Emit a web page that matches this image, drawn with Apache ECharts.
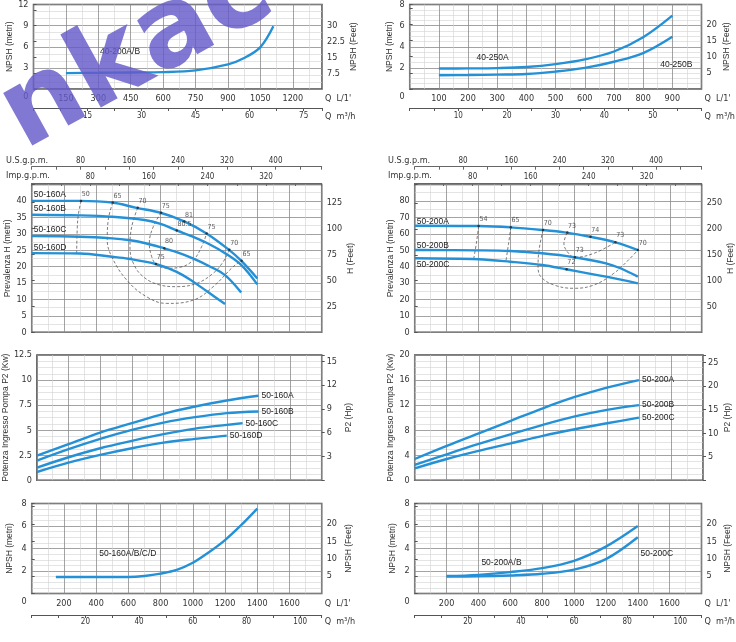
<!DOCTYPE html>
<html><head><meta charset="utf-8">
<script src="https://cdn.jsdelivr.net/npm/echarts@6/dist/echarts.min.js"></script>
<style>html,body{margin:0;padding:0;background:#fff}#c{width:736px;height:642px}</style>
</head><body><div id="c"></div>
<script>
const NUM = "'Liberation Sans Narrow','DejaVu Sans Condensed','Liberation Sans',sans-serif";
const TXT = "'Liberation Sans',Arial,sans-serif";
const BLUE = '#2490d6';

// ---------- DATA ----------
// Panel 1: NPSH 40-200A/B  (Q L/min, NPSH m)
const q40_200 = [150,300,450,600,750,900,975,1050,1110];
const npsh40_200 = [2.26,2.3,2.35,2.4,2.65,3.5,4.4,5.95,8.9];
// Panel 2: NPSH 40-250A / B
const q40_250 = [100,200,300,400,500,600,700,800,900];
const npsh40_250A = [1.94,1.95,1.98,2.08,2.35,2.8,3.55,4.9,6.95];
const npsh40_250B = [1.3,1.32,1.36,1.42,1.65,2.0,2.58,3.4,4.95];
// Panel 3: H 50-160
const qH160A = [0,300,500,650,800,950,1085,1225,1300,1400];
const h160A  = [40,40,39.5,37.9,36.4,33.7,30.1,25.1,21.8,16.4];
const qH160B = [0,300,500,700,800,900,1000,1100,1200,1300,1400];
const h160B  = [35.8,35.6,35.2,34.2,33.0,31.0,29.1,26.9,24.1,20.5,14.6];
const qH160C = [0,300,500,600,700,820,900,1000,1100,1200,1300];
const h160C  = [29.3,29.1,28.6,28.1,27.2,25.6,24.4,22.5,20.2,17.4,12.1];
const qH160D = [0,300,500,600,770,900,1000,1090,1200];
const h160D  = [24.1,24.0,23.0,22.4,20.8,18.4,15.5,12.4,8.6];
const eff160_50 = [[306,40],[290,36],[283,32],[279,24]];
const eff160_65 = [[503,39.5],[475,34.2],[469,28.1],[497,23.0],[590,15.9],[714,10.8],[838,8.8],[1003,9.8],[1127,13.9],[1251,20.0],[1303,21.8]];
const eff160_70 = [[658,37.9],[621,32.2],[610,26.1],[631,21.0],[693,16.9],[796,14.4],[900,13.9],[1024,14.9],[1127,18.0],[1189,21.5],[1227,25.1]];
const eff160_75 = [[803,36.4],[755,32.2],[730,27.1],[745,23.0],[771,20.8],[838,19.5],[920,19.8],[1003,22.0],[1055,26.1],[1086,30.1]];
const effMarks160 = [[306,40,'50'],[503,39.5,'65'],[658,37.9,'70'],[803,36.4,'75'],[947,33.7,'81'],[1086,30.1,'75'],[1227,25.1,'70'],[1303,21.8,'65'],[900,31.0,'80.5'],[823,25.6,'80'],[771,20.8,'75']];
// Panel 4: H 50-200
const qH200A = [0,400,600,800,950,1100,1260,1400];
const h200A  = [64.9,64.7,63.9,62.3,60.7,58.2,54.8,50.1];
const qH200B = [0,400,600,800,1000,1200,1290,1400];
const h200B  = [50.1,49.9,49.5,48.1,45.7,42.0,39.0,33.9];
const qH200C = [0,400,600,800,950,1200,1400];
const h200C  = [45.1,44.5,43.0,41.0,38.4,33.9,29.8];
const eff200_54 = [[401,64.7],[388,55],[370,44.6]];
const eff200_65 = [[603,63.9],[588,53.5],[572,43.2]];
const eff200_70 = [[805,62.3],[780,50.1],[774,40.0],[791,33.9],[874,28.8],[999,26.8],[1124,28.8],[1249,35.9],[1352,45.1],[1400,50.1]];
const eff200_73 = [[957,60.7],[936,54.2],[957,49.1],[1005,45.7],[1124,48.1],[1259,54.8]];
const effMarks200 = [[401,64.7,'54'],[603,63.9,'65'],[805,62.3,'70'],[957,60.7,'73'],[1103,58.2,'74'],[1259,54.8,'73'],[1400,50.1,'70'],[1005,45.7,'73'],[953,38.4,'72']];
// Panel 5: P2 50-160 (kW)
const qP = [0,200,400,600,800,1000,1200,1400];
const p160A = [2.46,3.6,4.76,5.7,6.63,7.36,7.96,8.43];
const p160B = [1.96,3.1,4.13,5.03,5.76,6.3,6.7,6.86];
const qP160C = [0,200,400,600,800,1000,1200,1300];
const p160C = [1.26,2.3,3.2,3.93,4.6,5.16,5.53,5.7];
const qP160D = [0,200,400,600,800,1000,1200];
const p160D = [0.83,1.76,2.53,3.2,3.76,4.13,4.46];
// Panel 6: P2 50-200 (kW)
const p200A = [3.4,5.5,7.5,9.5,11.5,13.3,14.8,16.0];
const p200B = [2.45,4.15,5.8,7.35,8.85,10.2,11.25,12.0];
const p200C = [1.9,3.4,4.7,5.9,7.1,8.15,9.1,10.0];
// Panel 7: NPSH 50-160A/B/C/D
const qN160 = [150,400,600,700,800,900,1000,1100,1200,1300,1400];
const npsh160 = [1.47,1.47,1.47,1.56,1.77,2.1,2.73,3.67,4.75,6.07,7.54];
// Panel 8: NPSH 50-200
const qN200 = [200,400,600,800,1000,1200,1400];
const npsh200AB = [1.55,1.66,1.9,2.25,2.91,4.17,6.0];
const npsh200C  = [1.5,1.52,1.6,1.75,2.12,3.06,5.0];

// tick label lists
const xL1 = [150,300,450,600,750,900,1050,1200], m3L1 = [15,30,45,60,75];
const xL2 = [100,200,300,400,500,600,700,800,900], m3L2 = [10,20,30,40,50];
const xL7 = [200,400,600,800,1000,1200,1400,1600], m3L7 = [20,40,60,80,100];
const usL = [80,160,240,320,400], impL = [80,160,240,320];

// ---------- BUILD ----------
const grids=[], xAxes=[], yAxes=[], series=[];
const inList=(l,v)=>l.some(t=>Math.abs(t-v)<1e-6);
const fmt=(l,shift)=>v=>inList(l,v)?((shift&&Math.abs(v)<1e-9)?'{z|0}':String(v)):'';
const lbl={fontSize:9,color:'#333',fontFamily:NUM};
const nameStyle={fontSize:8.5,color:'#333',fontFamily:TXT};
const shiftedName=(pad)=>({fontSize:9,color:'#333',fontFamily:NUM,align:'left',
  rich:{n:{padding:[pad,0,0,0],fontSize:9,color:'#333',fontFamily:NUM}}});

function addPanel(p){
  const gi=grids.length;
  grids.push({left:p.box[0],top:p.box[1],width:p.box[2],height:p.box[3],show:true,borderColor:'#4d4d4d',borderWidth:1.5});
  const xi=xAxes.length;
  xAxes.push({gridIndex:gi,type:'value',position:'bottom',min:0,max:p.xmax,interval:p.xint,
    axisLine:{show:false},axisTick:{show:false},
    axisLabel:Object.assign({show:!!p.xL,formatter:p.xL?fmt(p.xL):undefined,margin:p.xMargin||5},lbl),
    splitLine:{show:true,lineStyle:{color:'#8c8c8c',width:0.8}},
    minorTick:{show:false,splitNumber:2},
    minorSplitLine:{show:true,lineStyle:{color:'#d2d2d2',width:0.6}},
    name:p.xName?('{n|'+p.xName+'}'):'',nameLocation:'end',nameGap:3,
    nameTextStyle:shiftedName(p.xNamePad||0)});
  if(p.m3){
    xAxes.push({gridIndex:gi,type:'value',position:'bottom',offset:p.m3.offset,min:0,max:p.xmax*0.06,interval:p.m3.int,
      axisLine:{show:true,onZero:false,lineStyle:{color:'#555',width:1}},
      axisTick:{show:true,length:3,lineStyle:{color:'#555'}},
      axisLabel:Object.assign({formatter:fmt(p.m3.labels),margin:p.m3.margin},lbl,{fontSize:8}),
      splitLine:{show:false},
      name:'{n|Q  m³/h}',nameLocation:'end',nameGap:3,
      nameTextStyle:shiftedName(p.m3.namePad)});
  }
  if(p.gpm){
    xAxes.push({gridIndex:gi,type:'value',position:'top',offset:17.8,min:0,max:p.xmax/3.785,interval:40,
      axisLine:{show:true,onZero:false,lineStyle:{color:'#666',width:1}},
      axisTick:{show:true,inside:true,length:3,lineStyle:{color:'#666'}},
      axisLabel:Object.assign({formatter:fmt(usL),margin:2},lbl,{fontSize:8}),splitLine:{show:false}});
    xAxes.push({gridIndex:gi,type:'value',position:'top',offset:1.5,min:0,max:p.xmax/4.546,interval:40,
      axisLine:{show:true,onZero:false,lineStyle:{color:'#666',width:1}},
      axisTick:{show:true,inside:true,length:3,lineStyle:{color:'#666'}},
      axisLabel:Object.assign({formatter:fmt(impL),margin:2.5},lbl,{fontSize:8}),splitLine:{show:false}});
  }
  const yi=yAxes.length;
  yAxes.push({gridIndex:gi,type:'value',position:'left',min:0,max:p.ymax,interval:p.yint,
    axisLine:{show:false},axisTick:{show:false},
    axisLabel:Object.assign({formatter:fmt(p.yL,p.shiftZero),margin:5,
      rich:{z:{padding:[16,0,0,0],fontSize:9,color:'#333',fontFamily:NUM}}},lbl),
    splitLine:{show:true,lineStyle:{color:'#8c8c8c',width:0.8}},
    minorTick:{show:false,splitNumber:p.yMinor},
    minorSplitLine:{show:true,lineStyle:{color:'#d2d2d2',width:0.6}},
    name:p.yName,nameLocation:'middle',nameGap:p.yGap,nameRotate:90,nameTextStyle:nameStyle});
  yAxes.push({gridIndex:gi,type:'value',position:'right',min:0,max:p.rmax,interval:p.rint,
    axisLine:{show:false},axisTick:{show:true,length:3,lineStyle:{color:'#555'}},
    axisLabel:Object.assign({formatter:fmt(p.rL),margin:5},lbl),
    splitLine:{show:false},
    name:p.rName,nameLocation:'middle',nameGap:p.rGap,nameRotate:90,nameTextStyle:nameStyle});
  return {xi,yi};
}
const zip=(a,b)=>a.map((q,i)=>[q,b[i]]);
function curve(ax,qs,vs,extra){
  series.push(Object.assign({type:'line',xAxisIndex:ax.xi,yAxisIndex:ax.yi,data:zip(qs,vs),smooth:0.35,
    showSymbol:false,symbol:'none',lineStyle:{color:BLUE,width:2.4},itemStyle:{color:BLUE},z:5,silent:true},extra||{}));
}
function ptLabel(q,v,name,dy){
  return {coord:[q,v],symbol:'circle',symbolSize:0,
    label:{show:true,formatter:name,position:'right',distance:2,offset:[0,dy||0],fontSize:8.5,color:'#222',fontFamily:TXT}};
}
function textMarks(ax,items){
  series.push({type:'scatter',xAxisIndex:ax.xi,yAxisIndex:ax.yi,data:[],silent:true,
    markPoint:{silent:true,symbolSize:0,data:items}});
}
function endLbl(name){
  return {endLabel:{show:true,formatter:name,distance:3,fontSize:8.5,color:'#222',fontFamily:TXT}};
}
function eff(ax,pts){
  series.push({type:'line',xAxisIndex:ax.xi,yAxisIndex:ax.yi,data:pts,smooth:0.4,showSymbol:false,symbol:'none',
    lineStyle:{color:'#444',width:0.7,type:[3,2]},z:4,silent:true});
}
function effMarks(ax,marks){
  series.push({type:'scatter',xAxisIndex:ax.xi,yAxisIndex:ax.yi,symbolSize:2.5,itemStyle:{color:'#222'},z:6,silent:true,
    data:marks.map(m=>({value:[m[0],m[1]],name:m[2]})),
    label:{show:true,formatter:'{b}',position:[2,-9],fontSize:7,color:'#333',fontFamily:NUM}});
}

// Panel 1
const a1=addPanel({box:[33.5,-3,288.5,92],xmax:1335,xint:150,xL:xL1,xMargin:5.5,xName:"Q  L/1'",xNamePad:20,
  m3:{offset:19,int:7.5,labels:m3L1,margin:4,namePad:18},
  ymax:12,yint:3,yL:[0,3,6,9,12],shiftZero:true,yMinor:3,yName:'NPSH (metri)',yGap:17,
  rmax:40,rint:7.5,rL:[7.5,15,22.5,30],rName:'NPSH (Feet)',rGap:19});
curve(a1,q40_200,npsh40_200);
textMarks(a1,[ptLabel(298,5.35,'40-200A/B')]);
// Panel 2
const a2=addPanel({box:[409.7,-3,293.3,92],xmax:1000,xint:100,xL:xL2,xMargin:5.5,xName:"Q  L/1'",xNamePad:20,
  m3:{offset:19,int:5,labels:m3L2,margin:4,namePad:18},
  ymax:8,yint:2,yL:[0,2,4,6,8],shiftZero:true,yMinor:4,yName:'NPSH (metri)',yGap:15.5,
  rmax:26.1,rint:5,rL:[5,10,15,20],rName:'NPSH (Feet)',rGap:20.5});
curve(a2,q40_250,npsh40_250A);
curve(a2,q40_250,npsh40_250B);
textMarks(a2,[ptLabel(222,2.96,'40-250A'),ptLabel(852,2.35,'40-250B')]);
// Panel 3
const a3=addPanel({box:[31.7,184.5,290,147.8],xmax:1800,xint:200,gpm:true,
  ymax:45,yint:5,yL:[0,5,10,15,20,25,30,35,40],yMinor:2,yName:'Prevalenza H (metri)',yGap:19,
  rmax:142,rint:25,rL:[25,50,75,100,125],rName:'H (Feet)',rGap:24});
eff(a3,eff160_50);eff(a3,eff160_65);eff(a3,eff160_70);eff(a3,eff160_75);
curve(a3,qH160A,h160A);curve(a3,qH160B,h160B);curve(a3,qH160C,h160C);curve(a3,qH160D,h160D);
effMarks(a3,effMarks160);
textMarks(a3,[ptLabel(0,h160A[0],'50-160A',-6),ptLabel(0,h160B[0],'50-160B',-6),ptLabel(0,h160C[0],'50-160C',-6),ptLabel(0,h160D[0],'50-160D',-5)]);
// Panel 4
const a4=addPanel({box:[414.7,184.5,288.3,147.8],xmax:1800,xint:200,gpm:true,
  ymax:90,yint:10,yL:[0,10,20,30,40,50,60,70,80],yMinor:2,yName:'Prevalenza H (metri)',yGap:19,
  rmax:286,rint:50,rL:[50,100,150,200,250],rName:'H (Feet)',rGap:22});
eff(a4,eff200_54);eff(a4,eff200_65);eff(a4,eff200_70);eff(a4,eff200_73);
curve(a4,qH200A,h200A);curve(a4,qH200B,h200B);curve(a4,qH200C,h200C);
effMarks(a4,effMarks200);
textMarks(a4,[ptLabel(0,h200A[0],'50-200A',-4.5),ptLabel(0,h200B[0],'50-200B',-4.5),ptLabel(0,h200C[0],'50-200C',6)]);
// Panel 5
const a5=addPanel({box:[31.7,355,290,125.3],xmax:1800,xint:200,
  ymax:12.5,yint:2.5,yL:[0,2.5,5,7.5,10,12.5],yMinor:4,yName:'Potenza Ingresso Pompa P2 (Kw)',yGap:19,
  rmax:15.8,rint:3,rL:[3,6,9,12,15],rName:'P2 (Hp)',rGap:22});
curve(a5,qP,p160A,endLbl('50-160A'));curve(a5,qP,p160B,endLbl('50-160B'));
curve(a5,qP160C,p160C,endLbl('50-160C'));curve(a5,qP160D,p160D,endLbl('50-160D'));
// Panel 6
const a6=addPanel({box:[414.7,355,288.3,125.3],xmax:1800,xint:200,
  ymax:20,yint:4,yL:[0,4,8,12,16,20],yMinor:4,yName:'Potenza Ingresso Pompa P2 (Kw)',yGap:19,
  rmax:26.6,rint:5,rL:[5,10,15,20,25],rName:'P2 (Hp)',rGap:20});
curve(a6,qP,p200A,endLbl('50-200A'));curve(a6,qP,p200B,endLbl('50-200B'));curve(a6,qP,p200C,endLbl('50-200C'));
// Panel 7
const a7=addPanel({box:[31.7,503.5,290,90],xmax:1800,xint:200,xL:xL7,xMargin:6,xName:"Q  L/1'",xNamePad:21,
  m3:{offset:21.5,int:10,labels:m3L7,margin:2.5,namePad:13},
  ymax:8,yint:2,yL:[0,2,4,6,8],shiftZero:true,yMinor:4,yName:'NPSH (metri)',yGap:18,
  rmax:25.9,rint:5,rL:[5,10,15,20],rName:'NPSH (Feet)',rGap:22});
curve(a7,qN160,npsh160);
textMarks(a7,[ptLabel(407,3.54,'50-160A/B/C/D')]);
// Panel 8
const a8=addPanel({box:[414.7,503.5,288.3,90],xmax:1800,xint:200,xL:xL7,xMargin:6,xName:"Q  L/1'",xNamePad:21,
  m3:{offset:21.5,int:10,labels:m3L7,margin:2.5,namePad:13},
  ymax:8,yint:2,yL:[0,2,4,6,8],shiftZero:true,yMinor:4,yName:'NPSH (metri)',yGap:18,
  rmax:25.9,rint:5,rL:[5,10,15,20],rName:'NPSH (Feet)',rGap:22});
curve(a8,qN200,npsh200AB);curve(a8,qN200,npsh200C);
textMarks(a8,[ptLabel(406,2.71,'50-200A/B'),ptLabel(1405,3.56,'50-200C')]);

const gtext=(x,y,t)=>({type:'text',x:x,y:y,style:{text:t,font:"9px "+NUM,fill:'#333',align:'left',verticalAlign:'middle'}});
const graphic=[gtext(6,160.7,'U.S.g.p.m.'),gtext(6,176,'Imp.g.p.m.'),gtext(388,160.7,'U.S.g.p.m.'),gtext(388,176,'Imp.g.p.m.'),
  {type:'text',x:37,y:173,rotation:29*Math.PI/180,z:100,silent:true,
   style:{text:'nkace',font:"bold 110px 'DejaVu Sans'",fill:'rgba(100,90,200,0.82)',align:'left',verticalAlign:'bottom'}}];

const chart=echarts.init(document.getElementById('c'),null,{renderer:'canvas'});
chart.setOption({animation:false,grid:grids,xAxis:xAxes,yAxis:yAxes,series:series,graphic:graphic});
</script></body></html>
